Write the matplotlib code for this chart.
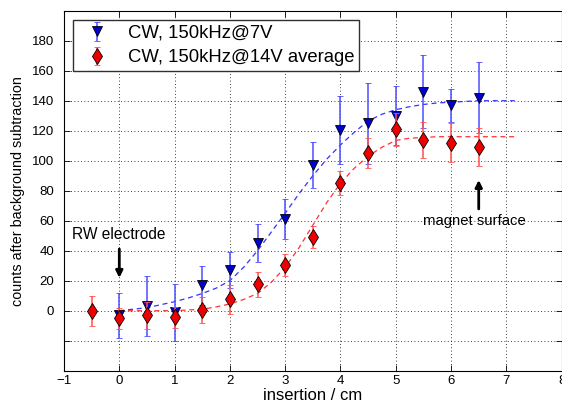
import matplotlib

matplotlib.use("Agg")
import matplotlib.pyplot as plt

plt.rcParams["font.family"] = ["Liberation Sans", "DejaVu Sans"]

# measured points: insertion (cm), counts, error
x_7v = [0, 0.5, 1, 1.5, 2, 2.5, 3, 3.5, 4, 4.5, 5, 5.5, 6, 6.5]
y_7v = [-3, 3, -1, 17, 27, 45, 61, 97, 120.5, 125, 130, 146, 137, 142]
err_7v = [15, 20, 19, 13, 12, 12.5, 13.5, 15.5, 22.5, 27, 19.5, 24.5, 11, 23.5]

x_14v = [-0.5, 0, 0.5, 1, 1.5, 2, 2.5, 3, 3.5, 4, 4.5, 5, 5.5, 6, 6.5]
y_14v = [0, -5, -3, -4.5, 0.5, 7.5, 17.5, 30.5, 49, 85, 105, 121, 114, 112, 109]
err_14v = [10, 7, 9, 7, 8.5, 9.5, 8.5, 7.5, 7.5, 8, 10, 11, 12, 13, 12.5]

# dashed fit curves
fit_x = [0, 0.25, 0.5, 0.75, 1, 1.25, 1.5, 1.75, 2, 2.25, 2.5, 2.75, 3, 3.25, 3.5,
         3.75, 4, 4.25, 4.5, 4.75, 5, 5.25, 5.5, 5.75, 6, 6.25, 6.5, 6.75, 7, 7.15]
fit_7v = [0, 1, 2, 4, 6, 8.5, 11.5, 15, 20, 29, 40, 52.5, 65, 78, 90,
          101, 110.5, 119, 126.5, 131, 134, 136, 137.5, 138.5, 139, 139.5, 140, 140, 140, 140]
fit_14v = [0, 0, 0, 0, 0, 0.5, 1, 2.5, 4.5, 7.5, 11.5, 19, 29, 42, 57,
           72, 85, 95, 103, 109, 113.5, 115, 115.5, 116, 116, 116, 116, 116, 116, 116]

x_ticks = list(range(-1, 9))
y_ticks = list(range(-40, 201, 20))
y_labels = ["" if (v < 0 or v > 180) else str(v) for v in y_ticks]

fig = plt.figure(figsize=(5.62, 4.04), dpi=100)
ax = fig.add_axes([0.1139, 0.0824, 0.8855, 0.8911])

blue = "#0000cc"
red = "#ee0000"

ax.plot(fit_x, fit_7v, linestyle=(0, (4, 3)), color="#3333ff", linewidth=0.9, zorder=2)
ax.plot(fit_x, fit_14v, linestyle=(0, (4, 3)), color="#ff3333", linewidth=0.9, zorder=2)

ax.errorbar(x_7v, y_7v, yerr=err_7v, fmt="v", color=blue, ecolor="#4d4dff",
            markerfacecolor=blue, markeredgecolor="black", markeredgewidth=0.6,
            markersize=7, elinewidth=1.1, capsize=2.5, capthick=1.1,
            label="CW, 150kHz@7V", zorder=3)
ax.errorbar(x_14v, y_14v, yerr=err_14v, fmt="d", color=red, ecolor="#ff5050",
            markerfacecolor=red, markeredgecolor="black", markeredgewidth=0.6,
            markersize=7.7, elinewidth=1.1, capsize=2.5, capthick=1.1,
            label="CW, 150kHz@14V average", zorder=4)

# annotations
ax.text(-0.86, 51, "RW electrode", fontsize=11.2, va="center", ha="left")
ax.annotate("", xy=(0, 20), xytext=(0, 43),
            arrowprops=dict(arrowstyle="-|>", color="black", lw=2, mutation_scale=10))
ax.text(5.49, 60, "magnet surface", fontsize=10.7, va="center", ha="left")
ax.annotate("", xy=(6.5, 89), xytext=(6.5, 66),
            arrowprops=dict(arrowstyle="-|>", color="black", lw=2, mutation_scale=10))

ax.set_xlim(-1, 8)
ax.set_ylim(-40, 200)
ax.set_xticks(x_ticks)
ax.set_xticklabels([str(v).replace("-", "\u2212") for v in x_ticks])
ax.set_yticks(y_ticks)
ax.set_yticklabels(y_labels)
ax.tick_params(direction="in", length=4, width=0.6, top=True, right=True, labelsize=9.5)
ax.tick_params(axis="x", pad=3)
ax.tick_params(axis="y", pad=7)
ax.grid(True, linestyle=(0, (1, 3)), color="black", linewidth=0.6)
for spine in ax.spines.values():
    spine.set_linewidth(0.8)

ax.set_xlabel("insertion / cm", fontsize=12, labelpad=1)
ax.set_ylabel("counts after background subtraction", fontsize=10.4, labelpad=5)

leg = ax.legend(loc="upper left", bbox_to_anchor=(0.018, 0.974), borderaxespad=0,
                fontsize=13.3, frameon=True, fancybox=False, edgecolor="#303030",
                framealpha=1, handlelength=2.07, handletextpad=0.64, borderpad=0.26,
                labelspacing=0.4)
leg.get_frame().set_linewidth(1.0)

fig.savefig("out.png", dpi=100)
